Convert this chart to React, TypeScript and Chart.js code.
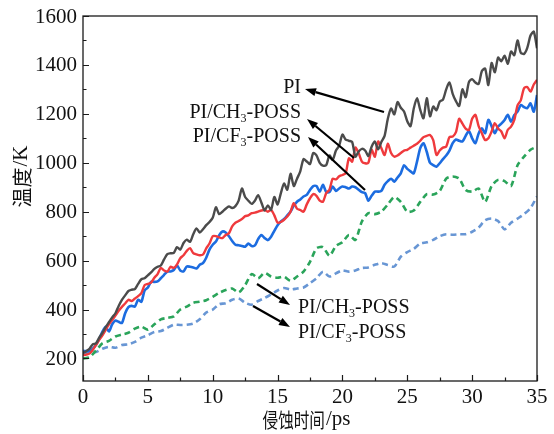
import { useEffect, useRef } from 'react';
import { Chart, registerables } from 'chart.js';

Chart.register(...registerables);

// Sampling grids (ps)
const TIME_SOLID = Array.from({ length: 141 }, (_, i) => i * 0.25);
const TIME_DASHED = Array.from({ length: 71 }, (_, i) => i * 0.5);

// Temperature (K), solid curves, every 0.25 ps
const PI_SOLID = [
  222, 230, 240, 258, 262, 285, 305, 328, 348, 368, 385, 415, 440, 458, 476, 481, 484, 505, 524, 528,
  540, 552, 566, 575, 580, 605, 627, 630, 632, 655, 645, 672, 686, 677, 708, 732, 715, 728, 745, 758,
  775, 818, 790, 800, 812, 822, 815, 823, 845, 895, 860, 845, 832, 845, 868, 838, 805, 826, 808, 860,
  830, 875, 915, 890, 955, 905, 935, 965, 1015, 1005, 995, 1040, 1030, 1000, 988, 990, 1030, 1012, 1050, 1070,
  1115, 1095, 1090, 1085, 1025, 1046, 1057, 1050, 1028, 1066, 1087, 1055, 1085, 1110, 1180, 1222, 1198, 1248, 1225, 1210,
  1170, 1150, 1222, 1264, 1216, 1182, 1264, 1190, 1230, 1215, 1250, 1258, 1300, 1328, 1282, 1252, 1232, 1300, 1268, 1330,
  1342, 1328, 1322, 1375, 1385, 1318, 1408, 1370, 1430, 1415, 1438, 1405, 1455, 1440, 1500, 1450, 1445, 1470, 1520, 1536,
  1468,
];

const CH3_SOLID = [
  214, 216, 220, 235, 255, 276, 295, 317, 340, 357, 375, 395, 411, 425, 440, 435, 445, 455, 467, 500,
  505, 510, 530, 545, 570, 560, 555, 575, 570, 585, 610, 622, 640, 651, 631, 626, 622, 625, 650, 670,
  700, 700, 695, 692, 705, 712, 740, 755, 762, 770, 782, 785, 794, 796, 800, 805, 807, 800, 807, 785,
  755, 758, 767, 780, 800, 835, 812, 807, 800, 830, 855, 872, 865, 845, 841, 876, 890, 935, 932, 945,
  950, 957, 1018, 1005, 1062, 1040, 1005, 998, 1000, 1053, 1025, 1087, 1060, 1032, 1078, 1040, 1025, 1030, 1040, 1050,
  1053, 1062, 1070, 1078, 1090, 1105, 1110, 1114, 1093, 1032, 1050, 1062, 1066, 1105, 1107, 1125, 1180, 1160, 1140, 1134,
  1180, 1196, 1150, 1121, 1093, 1100, 1128, 1162, 1140, 1128, 1100, 1135, 1148, 1175, 1235, 1255, 1305, 1310, 1291, 1320,
  1339,
];

const CF3_SOLID = [
  231, 230, 230, 240, 256, 280, 310, 330, 310, 340, 355, 350, 345, 385, 410, 415, 412, 440, 432, 478,
  490, 514, 513, 515, 528, 542, 555, 556, 562, 580, 560, 556, 576, 575, 572, 568, 583, 590, 612, 645,
  665, 678, 704, 719, 715, 700, 680, 665, 663, 660, 657, 670, 660, 662, 688, 705, 692, 684, 698, 722,
  745, 760, 770, 785, 801, 825, 841, 850, 862, 869, 889, 905, 905, 882, 910, 880, 880, 903, 885, 895,
  903, 900, 895, 903, 900, 890, 880, 876, 845, 865, 882, 882, 885, 910, 925, 935, 923, 940, 957, 990,
  975, 965, 957, 1005, 1060, 1080, 1045, 1000, 990, 984, 998, 1015, 1030, 1050, 1080, 1095, 1090, 1087, 1110, 1130,
  1100, 1080, 1120, 1141, 1121, 1175, 1150, 1121, 1148, 1160, 1175, 1196, 1168, 1195, 1209, 1236, 1228, 1223, 1243, 1209,
  1277,
];

// Temperature (K), dashed curves, every 0.5 ps
const CH3_DASHED = [
  200, 205, 232, 262, 272, 290, 298, 305, 322, 330,
  318, 340, 360, 366, 372, 400, 412, 428, 432, 438,
  452, 468, 480, 486, 470, 500, 545, 528, 550, 535,
  530, 534, 518, 535, 555, 595, 650, 655, 620, 660,
  675, 705, 685, 760, 794, 790, 800, 830, 860, 840,
  800, 805, 840, 872, 870, 885, 935, 944, 935, 889,
  882, 895, 840, 905, 930, 925, 905, 990, 1025, 1053,
  1066,
];

const CF3_DASHED = [
  220, 222, 226, 240, 248, 244, 255, 258, 268, 285,
  295, 308, 312, 325, 338, 337, 338, 343, 360, 388,
  400, 422, 426, 440, 445, 428, 420, 435, 447, 462,
  478, 488, 482, 486, 490, 508, 528, 555, 535, 548,
  560, 555, 560, 570, 572, 583, 590, 582, 576, 616,
  635, 648, 670, 675, 685, 700, 708, 706, 708, 708,
  718, 735, 765, 772, 762, 728, 755, 772, 790, 815,
  862,
];

const X_TICKS = [0, 5, 10, 15, 20, 25, 30, 35];
const X_MINOR = [2.5, 7.5, 12.5, 17.5, 22.5, 27.5, 32.5];
const Y_TICKS = [200, 400, 600, 800, 1000, 1200, 1400, 1600];
const Y_MINOR = [300, 500, 700, 900, 1100, 1300, 1500];

const X_TITLE_CJK = '侵蚀时间';
const X_TITLE_UNIT = '/ps';
const Y_TITLE_CJK = '温度';
const Y_TITLE_UNIT = '/K';

const SERIF = '"Liberation Serif", "Times New Roman", serif';
const CJK = '"Noto Sans CJK SC", "Noto Sans", sans-serif';

type Run = { text: string; sub?: boolean };

const LABEL_PI: Run[] = [{ text: 'PI' }];
const LABEL_CH3: Run[] = [{ text: 'PI/CH' }, { text: '3', sub: true }, { text: '-POSS' }];
const LABEL_CF3: Run[] = [{ text: 'PI/CF' }, { text: '3', sub: true }, { text: '-POSS' }];

function drawRuns(
  ctx: CanvasRenderingContext2D,
  runs: Run[],
  x: number,
  y: number,
  align: 'left' | 'right',
  size: number
) {
  const main = `${size}px ${SERIF}`;
  const small = `${Math.round(size * 0.62)}px ${SERIF}`;
  let w = 0;
  for (const r of runs) {
    ctx.font = r.sub ? small : main;
    w += ctx.measureText(r.text).width;
  }
  let cx = align === 'right' ? x - w : x;
  ctx.textAlign = 'left';
  ctx.textBaseline = 'middle';
  for (const r of runs) {
    ctx.font = r.sub ? small : main;
    ctx.fillText(r.text, cx, r.sub ? y + size * 0.3 : y);
    cx += ctx.measureText(r.text).width;
  }
}

function drawArrow(
  ctx: CanvasRenderingContext2D,
  x0: number,
  y0: number,
  x1: number,
  y1: number
) {
  const ang = Math.atan2(y1 - y0, x1 - x0);
  const headLen = 11;
  const headHalf = 4;
  const bx = x1 - headLen * Math.cos(ang);
  const by = y1 - headLen * Math.sin(ang);
  ctx.beginPath();
  ctx.moveTo(x0, y0);
  ctx.lineTo(bx, by);
  ctx.lineWidth = 2.2;
  ctx.stroke();
  ctx.beginPath();
  ctx.moveTo(x1, y1);
  ctx.lineTo(bx + headHalf * Math.sin(ang), by - headHalf * Math.cos(ang));
  ctx.lineTo(bx - headHalf * Math.sin(ang), by + headHalf * Math.cos(ang));
  ctx.closePath();
  ctx.fill();
}

const frameAndText = {
  id: 'frameAndText',
  afterDraw(chart: any) {
    const { ctx, chartArea: a, scales } = chart;
    const xs = scales.x;
    const ys = scales.y;
    ctx.save();
    ctx.strokeStyle = '#1a1a1a';
    ctx.fillStyle = '#111';
    ctx.lineWidth = 1.3;
    ctx.strokeRect(a.left, a.top, a.right - a.left, a.bottom - a.top);

    // inward tick marks
    ctx.beginPath();
    for (const v of Y_TICKS) {
      const py = Math.round(ys.getPixelForValue(v)) + 0.5;
      ctx.moveTo(a.left, py);
      ctx.lineTo(a.left + 6, py);
    }
    for (const v of Y_MINOR) {
      const py = Math.round(ys.getPixelForValue(v)) + 0.5;
      ctx.moveTo(a.left, py);
      ctx.lineTo(a.left + 3.5, py);
    }
    for (const v of X_TICKS) {
      const px = Math.round(xs.getPixelForValue(v)) + 0.5;
      ctx.moveTo(px, a.bottom);
      ctx.lineTo(px, a.bottom - 6);
    }
    for (const v of X_MINOR) {
      const px = Math.round(xs.getPixelForValue(v)) + 0.5;
      ctx.moveTo(px, a.bottom);
      ctx.lineTo(px, a.bottom - 3.5);
    }
    ctx.lineWidth = 1.2;
    ctx.stroke();

    // tick labels
    ctx.font = `21px ${SERIF}`;
    ctx.textAlign = 'right';
    ctx.textBaseline = 'middle';
    for (const v of Y_TICKS) {
      ctx.fillText(String(v), a.left - 6, ys.getPixelForValue(v) + 1);
    }
    ctx.textAlign = 'center';
    for (const v of X_TICKS) {
      ctx.fillText(String(v), xs.getPixelForValue(v), a.bottom + 16);
    }

    // x title
    {
      const cjkSize = 20;
      const sx = 0.78;
      ctx.font = `${cjkSize}px ${CJK}`;
      const wc = ctx.measureText(X_TITLE_CJK).width * sx;
      ctx.font = `21px ${SERIF}`;
      const wu = ctx.measureText(X_TITLE_UNIT).width;
      const left = 306 - (wc + wu) / 2;
      const cy = a.bottom + 39;
      ctx.save();
      ctx.translate(left, cy);
      ctx.scale(sx, 1);
      ctx.font = `${cjkSize}px ${CJK}`;
      ctx.textAlign = 'left';
      ctx.textBaseline = 'middle';
      ctx.fillText(X_TITLE_CJK, 0, 0);
      ctx.restore();
      ctx.font = `21px ${SERIF}`;
      ctx.textAlign = 'left';
      ctx.textBaseline = 'middle';
      ctx.fillText(X_TITLE_UNIT, left + wc + 1, cy - 1);
    }

    // y title
    {
      ctx.save();
      ctx.translate(22, 177);
      ctx.rotate(-Math.PI / 2);
      ctx.font = `20px ${CJK}`;
      const wc = ctx.measureText(Y_TITLE_CJK).width;
      ctx.font = `21px ${SERIF}`;
      const wu = ctx.measureText(Y_TITLE_UNIT).width;
      const left = -(wc + wu) / 2;
      ctx.textAlign = 'left';
      ctx.textBaseline = 'middle';
      ctx.font = `20px ${CJK}`;
      ctx.fillText(Y_TITLE_CJK, left, 0);
      ctx.font = `21px ${SERIF}`;
      ctx.fillText(Y_TITLE_UNIT, left + wc + 1, -1);
      ctx.restore();
    }

    // annotations
    ctx.fillStyle = '#111';
    drawRuns(ctx, LABEL_PI, 301, 88, 'right', 20);
    drawRuns(ctx, LABEL_CH3, 301, 113, 'right', 20);
    drawRuns(ctx, LABEL_CF3, 301, 137, 'right', 20);
    drawRuns(ctx, LABEL_CH3, 298, 308, 'left', 20);
    drawRuns(ctx, LABEL_CF3, 298, 333, 'left', 20);

    ctx.strokeStyle = '#000';
    ctx.fillStyle = '#000';
    drawArrow(ctx, 384, 112, 305, 89);
    drawArrow(ctx, 354, 158, 307, 119);
    drawArrow(ctx, 365, 190, 308, 137);
    drawArrow(ctx, 257, 284, 290, 305);
    drawArrow(ctx, 253, 306, 290, 327);

    ctx.restore();
  },
};

function pairs(times: number[], values: number[]) {
  return values.map((v, i) => ({ x: times[i], y: v }));
}

export default function App() {
  const canvasRef = useRef<HTMLCanvasElement | null>(null);

  useEffect(() => {
    const canvas = canvasRef.current;
    if (!canvas) return;
    const solid = (label: string, t: number[], v: number[], color: string, w: number) => ({
      label,
      data: pairs(t, v),
      borderColor: color,
      borderWidth: w,
      pointRadius: 0,
      tension: 0.25,
      fill: false,
    });
    const dashed = (label: string, t: number[], v: number[], color: string) => ({
      label,
      data: pairs(t, v),
      borderColor: color,
      borderWidth: 2.6,
      borderDash: [6, 4],
      pointRadius: 0,
      tension: 0.25,
      fill: false,
    });

    const chart = new Chart(canvas, {
      type: 'line',
      data: {
        datasets: [
          solid('PI', TIME_SOLID, PI_SOLID, '#4b4b4b', 2.4),
          solid('PI/CH3-POSS', TIME_SOLID, CH3_SOLID, '#ef3a3d', 2.4),
          solid('PI/CF3-POSS', TIME_SOLID, CF3_SOLID, '#1c6ce0', 2.6),
          dashed('PI/CH3-POSS (dashed)', TIME_DASHED, CH3_DASHED, '#2aa45a'),
          dashed('PI/CF3-POSS (dashed)', TIME_DASHED, CF3_DASHED, '#6896d4'),
        ],
      },
      options: {
        animation: false,
        responsive: true,
        maintainAspectRatio: false,
        layout: { padding: { left: 0, right: 17, top: 16, bottom: 0 } },
        plugins: {
          legend: { display: false },
          tooltip: { enabled: false },
        },
        scales: {
          x: {
            type: 'linear',
            min: 0,
            max: 35,
            ticks: { display: false },
            grid: { display: false, drawTicks: false },
            border: { display: false },
            afterFit: (s: any) => {
              s.height = 53;
            },
          },
          y: {
            type: 'linear',
            min: 108,
            max: 1600,
            ticks: { display: false },
            grid: { display: false, drawTicks: false },
            border: { display: false },
            afterFit: (s: any) => {
              s.width = 83;
            },
          },
        },
      },
      plugins: [frameAndText],
    } as any);

    return () => chart.destroy();
  }, []);

  return (
    <div
      style={{
        position: 'fixed',
        left: 0,
        top: 0,
        width: 554,
        height: 434,
        background: '#fff',
      }}
    >
      <canvas ref={canvasRef} />
    </div>
  );
}
